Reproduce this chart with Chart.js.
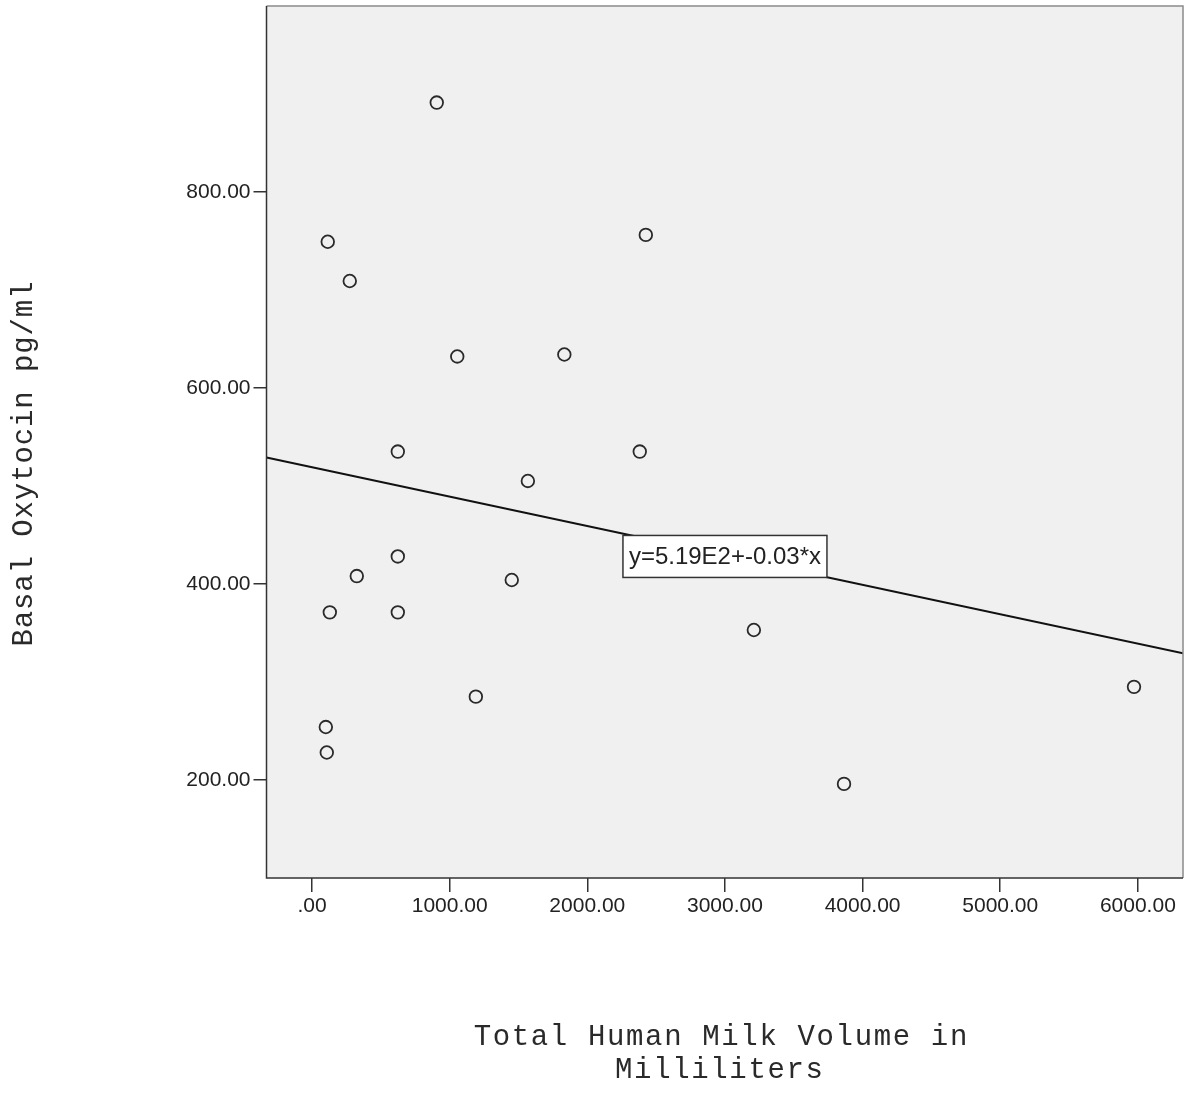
<!DOCTYPE html>
<html>
<head>
<meta charset="utf-8">
<script src="https://cdn.jsdelivr.net/npm/chart.js@4/dist/chart.umd.min.js"></script>
<style>
  html, body { margin: 0; padding: 0; background: #ffffff; }
  #wrap { width: 1186px; height: 1095px; position: relative; }
</style>
</head>
<body>
<div id="wrap"><canvas id="c"></canvas></div>
<script>
// Total human milk volume (ml) and basal oxytocin (pg/ml), one entry per subject
const milkVolume = [906, 114, 2425, 274, 1055, 1833, 623, 2381, 1568, 623,
                    325, 1451, 129, 623, 3210, 1190, 5972, 100, 107, 3865];
const oxytocin   = [891, 749, 756, 709, 632, 634, 535, 535, 505, 428,
                    408, 404, 371, 371, 353, 285, 295, 254, 228, 196];

// Fit line y = a + b*x as printed in the equation label
const fitIntercept = 519;
const fitSlope = -0.03;
const fitLabel = 'y=5.19E2+-0.03*x';

const xTicks = [0, 1000, 2000, 3000, 4000, 5000, 6000];
const yTicks = [200, 400, 600, 800];
const xRange = [-331, 6328];
const yRange = [100, 989.5];

const xTitleLines = ['Total Human Milk Volume in', 'Milliliters'];
const yTitle = 'Basal Oxytocin pg/ml';

function fmt(v) {
  return v === 0 ? '.00' : v.toFixed(2);
}

const fitPoints = xRange.map(x => ({ x: x, y: fitIntercept + fitSlope * x }));
const scatterPoints = milkVolume.map((x, i) => ({ x: x, y: oxytocin[i] }));

// Plot background and frame
const framePlugin = {
  id: 'frame',
  beforeDatasetsDraw(chart) {
    const { ctx, chartArea: a } = chart;
    ctx.save();
    ctx.fillStyle = '#f0f0f0';
    ctx.fillRect(a.left, a.top, a.right - a.left, a.bottom - a.top);
    ctx.restore();
  },
  afterDatasetsDraw(chart) {
    const { ctx, chartArea: a } = chart;
    ctx.save();
    ctx.lineWidth = 1.5;
    ctx.strokeStyle = '#8a8a8a';
    ctx.beginPath();
    ctx.moveTo(a.left, a.top); ctx.lineTo(a.right, a.top); ctx.lineTo(a.right, a.bottom);
    ctx.stroke();
    ctx.strokeStyle = '#333333';
    ctx.beginPath();
    ctx.moveTo(a.left, a.top); ctx.lineTo(a.left, a.bottom); ctx.lineTo(a.right, a.bottom);
    ctx.stroke();
    ctx.restore();
  }
};

// Equation box drawn at a data position on the fit line
const eqPlugin = {
  id: 'eqLabel',
  afterDatasetsDraw(chart, args, opts) {
    const { ctx, scales } = chart;
    const cx = scales.x.getPixelForValue(opts.x);
    const cy = scales.y.getPixelForValue(opts.y);
    ctx.save();
    ctx.font = '24px "Liberation Sans", Arial, sans-serif';
    const w = 204, h = 42;
    ctx.fillStyle = '#ffffff';
    ctx.fillRect(cx - w / 2, cy - h / 2, w, h);
    ctx.lineWidth = 1.5;
    ctx.strokeStyle = '#333333';
    ctx.strokeRect(cx - w / 2, cy - h / 2, w, h);
    ctx.fillStyle = '#222222';
    ctx.textAlign = 'center';
    ctx.textBaseline = 'middle';
    ctx.fillText(fitLabel, cx, cy + 1);
    ctx.restore();
  }
};

// Monospaced axis titles with wide character spacing
function drawSpaced(ctx, text, cx, baseY, adv) {
  const n = text.length;
  for (let i = 0; i < n; i++) {
    ctx.fillText(text[i], cx + (i - (n - 1) / 2) * adv, baseY);
  }
}
const titlePlugin = {
  id: 'axisTitles',
  afterDraw(chart) {
    const { ctx } = chart;
    ctx.save();
    ctx.fillStyle = '#2a2a2a';
    ctx.font = '29px "Liberation Mono", "Courier New", monospace';
    ctx.textAlign = 'center';
    ctx.textBaseline = 'alphabetic';
    drawSpaced(ctx, xTitleLines[0], 720.5, 1045, 19.05);
    drawSpaced(ctx, xTitleLines[1], 719, 1078, 19.05);
    ctx.translate(24, 464);
    ctx.rotate(-Math.PI / 2);
    ctx.textBaseline = 'middle';
    drawSpaced(ctx, yTitle, 0, 0, 18.3);
    ctx.restore();
  }
};

new Chart(document.getElementById('c'), {
  type: 'scatter',
  data: {
    datasets: [
      {
        type: 'line',
        data: fitPoints,
        borderColor: '#111111',
        borderWidth: 2,
        pointRadius: 0,
        fill: false,
        order: 2
      },
      {
        data: scatterPoints,
        pointRadius: 6.3,
        pointBorderWidth: 1.8,
        pointBorderColor: '#2a2a2a',
        pointBackgroundColor: '#f0f0f0',
        order: 1
      }
    ]
  },
  options: {
    responsive: true,
    maintainAspectRatio: false,
    animation: false,
    layout: { autoPadding: false, padding: { left: 0, top: 6, right: 3, bottom: 0 } },
    plugins: {
      legend: { display: false },
      tooltip: { enabled: false },
      eqLabel: { x: 3000, y: 428 }
    },
    scales: {
      x: {
        type: 'linear',
        min: xRange[0],
        max: xRange[1],
        afterBuildTicks(s) { s.ticks = xTicks.map(v => ({ value: v })); },
        afterFit(s) { s.height = 217; s.paddingLeft = 0; s.paddingRight = 0; },
        border: { display: false },
        grid: { drawOnChartArea: false, drawTicks: true, tickLength: 14, color: '#333333', lineWidth: 1.5 },
        ticks: {
          callback: v => fmt(v),
          font: { family: '"Liberation Sans", Arial, sans-serif', size: 21 },
          color: '#222222',
          padding: 2,
          maxRotation: 0,
          autoSkip: false
        }
      },
      y: {
        type: 'linear',
        min: yRange[0],
        max: yRange[1],
        afterBuildTicks(s) { s.ticks = yTicks.map(v => ({ value: v })); },
        afterFit(s) { s.width = 266.5; s.paddingTop = 0; s.paddingBottom = 0; },
        border: { display: false },
        grid: { drawOnChartArea: false, drawTicks: true, tickLength: 13, color: '#333333', lineWidth: 1.5 },
        ticks: {
          callback: v => fmt(v),
          font: { family: '"Liberation Sans", Arial, sans-serif', size: 21 },
          color: '#222222',
          padding: 3,
          autoSkip: false
        }
      }
    }
  },
  plugins: [framePlugin, eqPlugin, titlePlugin]
});
</script>
</body>
</html>
